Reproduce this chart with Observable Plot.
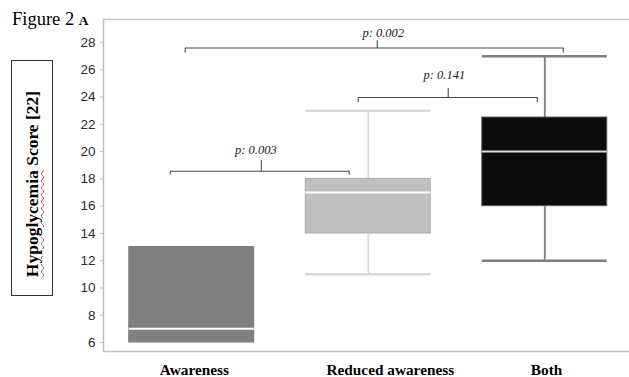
<!DOCTYPE html>
<html>
<head>
<meta charset="utf-8">
<script src="https://cdn.jsdelivr.net/npm/d3@7"></script>
<script src="https://cdn.jsdelivr.net/npm/@observablehq/plot@0.6"></script>
<style>
  html, body { margin: 0; padding: 0; background: #fff; overflow: hidden; }
  #wrap { position: relative; width: 629px; height: 377px; }
  #wrap svg { position: absolute; left: 0; top: 0; }
  .fig { position: absolute; left: 12px; top: 9px; font-family: "Liberation Serif", serif; font-size: 18.5px; color: #000; white-space: nowrap; }
  .fig b { font-size: 13.5px; }
  .ybox { position: absolute; left: 11px; top: 60px; width: 40px; height: 234px; border: 1px solid #333; box-sizing: content-box; }
  .ylab { position: absolute; left: 33px; top: 184px; transform: translate(-50%, -50%) rotate(-90deg); white-space: nowrap;
          font-family: "Liberation Serif", serif; font-weight: bold; font-size: 17.5px; line-height: 1; color: #000; }
  .ylab .sp { text-decoration: underline wavy #e04040; text-decoration-thickness: 1px; text-underline-offset: 2px; }
</style>
</head>
<body>
<div id="wrap">
  <div class="fig">Figure 2 <b>A</b></div>
  <div class="ybox"></div>
  <div class="ylab"><span class="sp">Hypoglycemia</span> Score [22]</div>
</div>
<script>
// ---- data ----
const categories = ["Awareness", "Reduced awareness", "Both"];
const whiskerLow = [6, 11, 12];
const q1 = [6, 14, 16];
const median = [7, 17, 20];
const q3 = [13, 18, 22.5];
const whiskerHigh = [13, 23, 27];
const yTicks = [6, 8, 10, 12, 14, 16, 18, 20, 22, 24, 26, 28];
const comparisons = [[0, 1], [1, 2], [0, 2]];
const pLabels = ["p: 0.003", "p: 0.141", "p: 0.002"];

// ---- styles / layout (kept apart from the data) ----
const boxFill = ["#808080", "#c0c0c0", "#0c0c0c"];
const boxStroke = ["#7c7c7c", "#a9a9a9", "#5a5a5a"];
const whiskerColor = ["#808080", "#d9d9d9", "#7f7f7f"];
const medianColor = ["#ffffff", "#ffffff", "#dcdcdc"];
const halfBox = 0.354;
const labelShift = [0.015, 0.125, 0.01];
// bracket geometry in (category index offset, data units)
const bracketLayout = [
  {dl: -0.122, dr: -0.108, tick: 0.394, text: 0.363, y: 18.56, drop: 0.22, rise: 0.78, ty: 19.79},
  {dl: -0.057, dr: -0.042, tick: 1.453, text: 1.431, y: 23.97, drop: 0.30, rise: 0.66, ty: 25.36},
  {dl: -0.037, dr: 0.105, tick: 1.051, text: 1.085, y: 27.60, drop: 0.30, rise: 0.55, ty: 28.44}
];

const idx = categories.map((_, i) => i);

const bracketPts = [];
comparisons.forEach(([a, b], k) => {
  const L = bracketLayout[k];
  const xl = a + L.dl, xr = b + L.dr;
  [[xl, L.y - L.drop], [xl, L.y], [L.tick, L.y], [L.tick, L.y + L.rise], [L.tick, L.y], [xr, L.y], [xr, L.y - L.drop]]
    .forEach(([x, y]) => bracketPts.push({k, x, y}));
});
const bracketText = comparisons.map((c, k) => ({x: bracketLayout[k].text, y: bracketLayout[k].ty, label: pLabels[k]}));

const yMin = 5.34, yMax = 29.69;
const xMin = -0.5, xMax = 2.48;

const chart = Plot.plot({
  width: 629,
  height: 377,
  marginLeft: 103,
  marginRight: 0,
  marginTop: 19,
  marginBottom: 26,
  style: {background: "transparent", overflow: "visible"},
  x: {domain: [xMin, xMax], axis: null},
  y: {domain: [yMin, yMax]},
  color: {type: "identity"},
  marks: [
    // frame (left, top, bottom)
    Plot.ruleX([xMin], {y1: yMin, y2: yMax, stroke: "#bdbdbd", strokeWidth: 1.5}),
    Plot.ruleY([yMin, yMax], {x1: xMin, x2: xMax, stroke: "#c4c4c4", strokeWidth: 1.5}),
    // y axis
    Plot.axisY(yTicks, {tickSize: 3, tickPadding: 5, stroke: "#bbbbbb", fill: "#2a2a2a",
      fontFamily: "Liberation Sans, Arial, sans-serif", fontSize: 13.5, label: null}),
    // category labels
    Plot.text(idx, {x: i => i + labelShift[i], y: () => yMin, text: i => categories[i], lineAnchor: "top", dy: 13,
      fill: "#000", fontFamily: "Liberation Serif, serif", fontWeight: "bold", fontSize: 15.3}),
    // whiskers
    Plot.ruleX(idx.filter(i => whiskerHigh[i] > q3[i]), {x: i => i, y1: i => q3[i], y2: i => whiskerHigh[i], stroke: i => whiskerColor[i], strokeWidth: 1.8}),
    Plot.ruleX(idx.filter(i => whiskerLow[i] < q1[i]), {x: i => i, y1: i => whiskerLow[i], y2: i => q1[i], stroke: i => whiskerColor[i], strokeWidth: 1.8}),
    Plot.ruleY(idx.filter(i => whiskerHigh[i] > q3[i]), {y: i => whiskerHigh[i], x1: i => i - halfBox, x2: i => i + halfBox, stroke: i => whiskerColor[i], strokeWidth: 2.5}),
    Plot.ruleY(idx.filter(i => whiskerLow[i] < q1[i]), {y: i => whiskerLow[i], x1: i => i - halfBox, x2: i => i + halfBox, stroke: i => whiskerColor[i], strokeWidth: 2.5}),
    // boxes
    Plot.rect(idx, {x1: i => i - halfBox, x2: i => i + halfBox, y1: i => q1[i], y2: i => q3[i],
      fill: i => boxFill[i], stroke: i => boxStroke[i], strokeWidth: 1}),
    // medians
    Plot.ruleY(idx, {y: i => median[i], x1: i => i - halfBox, x2: i => i + halfBox, stroke: i => medianColor[i], strokeWidth: 2}),
    // significance brackets
    Plot.line(bracketPts, {x: "x", y: "y", z: "k", stroke: "#4a4a4a", strokeWidth: 1.1, curve: "linear"}),
    Plot.text(bracketText, {x: "x", y: "y", text: "label", lineAnchor: "bottom", textAnchor: "middle",
      fontFamily: "Liberation Serif, serif", fontStyle: "italic", fontSize: 12.5, fill: "#222"})
  ]
});
document.getElementById("wrap").prepend(chart);
</script>
</body>
</html>
